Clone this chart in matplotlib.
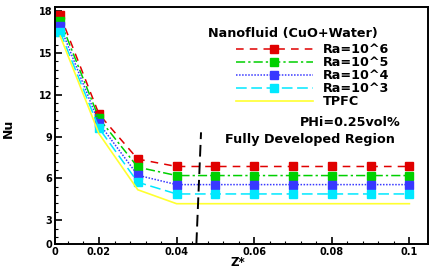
import matplotlib
matplotlib.use("Agg")
import matplotlib.pyplot as plt
import numpy as np

plt.rcParams['font.family'] = ['DejaVu Sans']
plt.rcParams['font.weight'] = 'bold'

z = [0.01, 0.02, 0.03, 0.04, 0.05, 0.06, 0.07, 0.08, 0.09, 0.10]
nu_ra6 = [17.7, 10.6, 7.38, 6.85, 6.85, 6.85, 6.85, 6.85, 6.85, 6.85]
nu_ra5 = [17.3, 10.3, 6.80, 6.20, 6.20, 6.20, 6.20, 6.20, 6.20, 6.20]
nu_ra4 = [16.9, 9.95, 6.22, 5.55, 5.55, 5.55, 5.55, 5.55, 5.55, 5.55]
nu_ra3 = [16.5, 9.6, 5.72, 4.88, 4.88, 4.88, 4.88, 4.88, 4.88, 4.88]
nu_tpfc = [16.2, 9.2, 5.18, 4.18, 4.18, 4.18, 4.18, 4.18, 4.18, 4.18]
labels = ['Ra=10^6', 'Ra=10^5', 'Ra=10^4', 'Ra=10^3', 'TPFC']

xticks = [0.02, 0.04, 0.06, 0.08, 0.1]
xtick_labels = ['0.02', '0.04', '0.06', '0.08', '0.1']
yticks = [3, 6, 9, 12, 15, 18]
ytick_labels = ['3', '6', '9', '12', '15', '18']

# boundary line of fully developed region
fd_x = [0.0451, 0.0463]
fd_y = [1.29, 9.3]

xmin, xmax = 0.00866, 0.1048
ymin, ymax = 1.29, 18.29

fig = plt.figure(figsize=(4.3, 2.75), dpi=100)
ax = fig.add_axes([55/430, 1-244/275, (428-55)/430, (244-7)/275])

ms = 6
ax.plot(z, nu_ra6, color='#e00000', ls=(0, (5, 4)), lw=1.1, marker='s', ms=ms, label=labels[0])
ax.plot(z, nu_ra5, color='#00d000', ls=(0, (6, 2, 1.5, 2)), lw=1.1, marker='s', ms=ms, label=labels[1])
ax.plot(z, nu_ra4, color='#3838ff', ls=(0, (1, 1)), lw=1.1, marker='s', ms=ms, label=labels[2])
ax.plot(z, nu_ra3, color='#00e8ff', ls=(0, (7, 3)), lw=1.1, marker='s', ms=ms, label=labels[3])
ax.plot(z, nu_tpfc, color='#ffff30', ls='-', lw=1.2, label=labels[4])
ax.plot(fd_x, fd_y, color='black', ls=(0, (6, 3)), lw=1.4)

ax.set_xlim(xmin, xmax)
ax.set_ylim(ymin, ymax)
ax.set_xticks([xmin] + xticks)
ax.set_xticklabels(['0'] + xtick_labels)
ax.set_yticks([ymin] + yticks)
ax.set_yticklabels(['0'] + ytick_labels)
ax.set_xticks(np.arange(0.012, 0.104, 0.004), minor=True)
ax.set_yticks(np.arange(1.8, 18.2, 0.6), minor=True)
ax.tick_params(which='both', direction='in', top=False, right=False, labelsize=7, pad=2)
ax.tick_params(which='major', length=5, width=1.2)
ax.tick_params(which='minor', length=2.5, width=0.8)
for lab in ax.get_xticklabels() + ax.get_yticklabels():
    lab.set_fontweight('bold')
for s in ax.spines.values():
    s.set_linewidth(1.4)

ax.set_xlabel('Z*', fontsize=8.5, fontweight='bold')
ax.xaxis.set_label_coords((238-55)/373, -0.05)
ax.set_ylabel('Nu', fontsize=9, fontweight='bold')
ax.yaxis.set_label_coords(-(55-15)/373, (244-128)/237)

fig.text(208/430, 1-33/275, 'Nanofluid (CuO+Water)', fontsize=9.2, fontweight='bold', va='center', ha='left')
leg = ax.legend(loc='upper left', bbox_to_anchor=(236/430, 1-43/275), bbox_transform=fig.transFigure,
                frameon=False, fontsize=9.2, handlelength=6.0, handletextpad=0.8,
                labelspacing=0.0, numpoints=1, borderpad=0, borderaxespad=0)
for t in leg.get_texts():
    t.set_fontweight('bold')
fig.text(300/430, 1-123/275, 'PHi=0.25vol%', fontsize=9.2, fontweight='bold', va='center', ha='left')
fig.text(225/430, 1-140/275, 'Fully Developed Region', fontsize=9.2, fontweight='bold', va='center', ha='left')

fig.savefig('out.png', dpi=100)
